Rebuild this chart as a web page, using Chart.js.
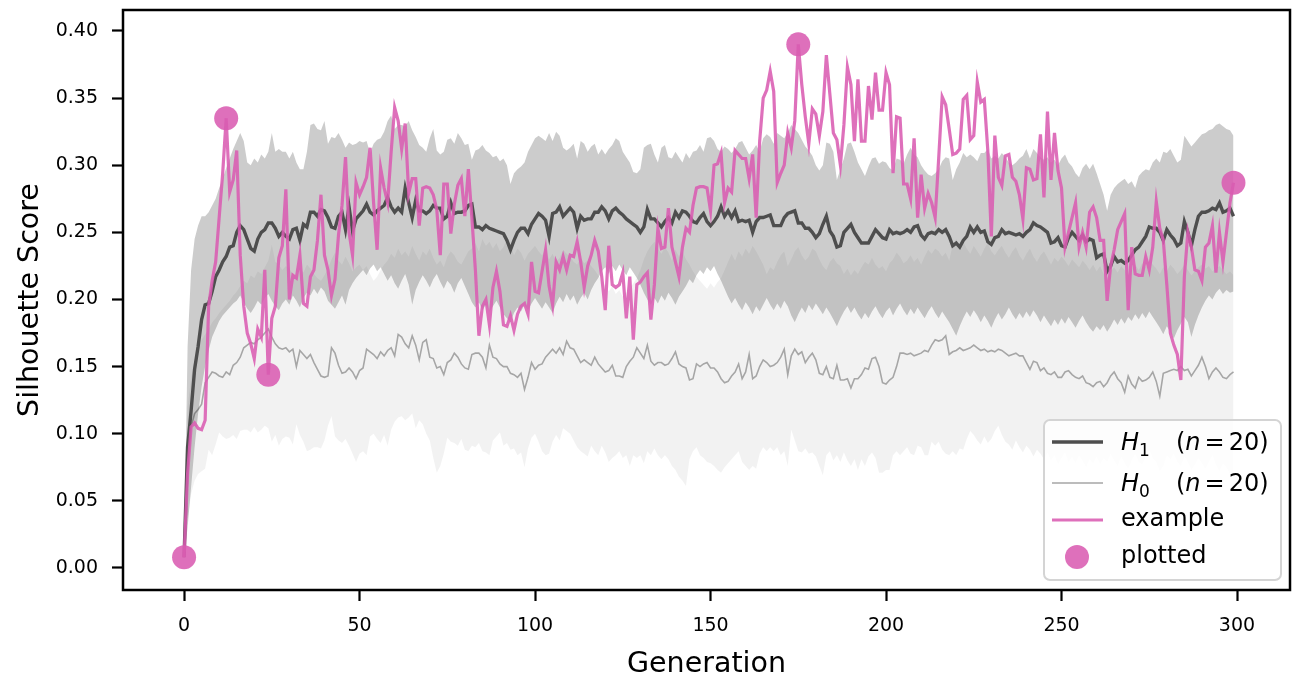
<!DOCTYPE html>
<html>
<head>
<meta charset="utf-8">
<title>Silhouette Score by Generation</title>
<script src="https://cdn.jsdelivr.net/npm/chart.js@4.4.1/dist/chart.umd.min.js"></script>
<style>
  html, body { margin: 0; padding: 0; background: #fff; }
  #wrap { width: 1294px; height: 674px; }
</style>
</head>
<body>
<div id="wrap"><canvas id="chart" width="1294" height="674"></canvas></div>
<script>
// values, one per generation (0..299)
const exampleScores = [
  0.008, 0.070, 0.105, 0.108, 0.104, 0.103, 0.110, 0.195, 0.214, 0.228,
  0.261, 0.294, 0.335, 0.280, 0.289, 0.311, 0.233, 0.195, 0.175, 0.167,
  0.156, 0.178, 0.172, 0.222, 0.144, 0.186, 0.195, 0.231, 0.240, 0.282,
  0.200, 0.218, 0.216, 0.233, 0.197, 0.195, 0.217, 0.222, 0.244, 0.278,
  0.233, 0.222, 0.203, 0.215, 0.248, 0.270, 0.306, 0.250, 0.233, 0.287,
  0.278, 0.284, 0.291, 0.313, 0.272, 0.237, 0.298, 0.283, 0.272, 0.310,
  0.343, 0.333, 0.312, 0.331, 0.279, 0.290, 0.290, 0.255, 0.283, 0.284,
  0.283, 0.278, 0.267, 0.233, 0.286, 0.286, 0.249, 0.271, 0.285, 0.290,
  0.262, 0.297, 0.261, 0.222, 0.173, 0.195, 0.200, 0.181, 0.209, 0.221,
  0.206, 0.181, 0.180, 0.188, 0.177, 0.189, 0.195, 0.197, 0.189, 0.228,
  0.206, 0.205, 0.221, 0.237, 0.210, 0.196, 0.228, 0.222, 0.232, 0.222,
  0.233, 0.232, 0.243, 0.228, 0.209, 0.225, 0.233, 0.244, 0.236, 0.217,
  0.192, 0.240, 0.211, 0.209, 0.211, 0.220, 0.186, 0.217, 0.170, 0.211,
  0.213, 0.217, 0.220, 0.185, 0.211, 0.253, 0.238, 0.239, 0.268, 0.239,
  0.228, 0.217, 0.239, 0.253, 0.250, 0.270, 0.283, 0.284, 0.284, 0.283,
  0.266, 0.300, 0.301, 0.309, 0.272, 0.283, 0.280, 0.311, 0.308, 0.305,
  0.305, 0.290, 0.308, 0.261, 0.318, 0.350, 0.356, 0.370, 0.355, 0.287,
  0.294, 0.300, 0.324, 0.313, 0.333, 0.390, 0.360, 0.336, 0.316, 0.342,
  0.338, 0.322, 0.340, 0.382, 0.353, 0.324, 0.319, 0.300, 0.330, 0.373,
  0.360, 0.318, 0.364, 0.318, 0.318, 0.359, 0.334, 0.369, 0.341, 0.341,
  0.369, 0.360, 0.294, 0.336, 0.335, 0.286, 0.286, 0.275, 0.320, 0.261,
  0.293, 0.268, 0.279, 0.272, 0.261, 0.305, 0.351, 0.345, 0.327, 0.308,
  0.309, 0.312, 0.349, 0.352, 0.319, 0.322, 0.362, 0.347, 0.349, 0.311,
  0.247, 0.322, 0.291, 0.285, 0.307, 0.308, 0.291, 0.288, 0.278, 0.260,
  0.298, 0.297, 0.289, 0.290, 0.323, 0.276, 0.340, 0.289, 0.324, 0.296,
  0.283, 0.239, 0.250, 0.261, 0.272, 0.239, 0.250, 0.239, 0.265, 0.269,
  0.261, 0.244, 0.244, 0.199, 0.225, 0.237, 0.252, 0.258, 0.264, 0.192,
  0.239, 0.219, 0.218, 0.218, 0.232, 0.222, 0.239, 0.273, 0.253, 0.244,
  0.211, 0.175, 0.166, 0.159, 0.140, 0.217, 0.250, 0.239, 0.222, 0.221,
  0.214, 0.239, 0.242, 0.255, 0.220, 0.250, 0.228, 0.250, 0.272, 0.287
];

const h1Mean = [
  0.008, 0.090, 0.117, 0.148, 0.165, 0.185, 0.196, 0.197, 0.206, 0.217,
  0.222, 0.228, 0.232, 0.239, 0.240, 0.250, 0.255, 0.252, 0.245, 0.238,
  0.236, 0.245, 0.250, 0.252, 0.257, 0.257, 0.253, 0.247, 0.250, 0.247,
  0.245, 0.252, 0.253, 0.244, 0.256, 0.254, 0.265, 0.265, 0.262, 0.267,
  0.266, 0.261, 0.254, 0.253, 0.262, 0.265, 0.252, 0.269, 0.251, 0.260,
  0.263, 0.266, 0.271, 0.265, 0.263, 0.266, 0.268, 0.270, 0.276, 0.269,
  0.265, 0.268, 0.265, 0.283, 0.272, 0.261, 0.274, 0.266, 0.266, 0.264,
  0.266, 0.270, 0.268, 0.268, 0.260, 0.262, 0.272, 0.264, 0.265, 0.265,
  0.266, 0.270, 0.271, 0.254, 0.254, 0.252, 0.255, 0.253, 0.252, 0.251,
  0.250, 0.249, 0.244, 0.237, 0.244, 0.250, 0.253, 0.253, 0.249, 0.256,
  0.260, 0.264, 0.262, 0.259, 0.247, 0.264, 0.265, 0.269, 0.262, 0.265,
  0.268, 0.265, 0.253, 0.262, 0.259, 0.260, 0.260, 0.265, 0.265, 0.269,
  0.266, 0.260, 0.266, 0.268, 0.265, 0.263, 0.260, 0.258, 0.256, 0.254,
  0.250, 0.254, 0.267, 0.260, 0.260, 0.257, 0.254, 0.258, 0.261, 0.257,
  0.265, 0.261, 0.266, 0.265, 0.262, 0.258, 0.257, 0.261, 0.264, 0.258,
  0.255, 0.258, 0.262, 0.269, 0.262, 0.266, 0.261, 0.266, 0.258, 0.259,
  0.258, 0.259, 0.250, 0.258, 0.261, 0.261, 0.262, 0.263, 0.255, 0.255,
  0.255, 0.261, 0.264, 0.265, 0.266, 0.257, 0.257, 0.253, 0.253, 0.250,
  0.246, 0.249, 0.256, 0.262, 0.251, 0.247, 0.239, 0.240, 0.250, 0.253,
  0.256, 0.250, 0.246, 0.242, 0.242, 0.242, 0.247, 0.252, 0.249, 0.246,
  0.245, 0.252, 0.249, 0.250, 0.249, 0.250, 0.252, 0.250, 0.254, 0.255,
  0.248, 0.245, 0.249, 0.250, 0.249, 0.252, 0.250, 0.252, 0.247, 0.240,
  0.242, 0.239, 0.244, 0.247, 0.254, 0.250, 0.254, 0.250, 0.251, 0.243,
  0.241, 0.246, 0.247, 0.252, 0.249, 0.250, 0.249, 0.248, 0.249, 0.247,
  0.250, 0.252, 0.257, 0.255, 0.254, 0.252, 0.250, 0.242, 0.243, 0.246,
  0.240, 0.239, 0.246, 0.250, 0.247, 0.244, 0.248, 0.243, 0.245, 0.244,
  0.231, 0.233, 0.234, 0.221, 0.225, 0.232, 0.228, 0.229, 0.227, 0.229,
  0.233, 0.237, 0.239, 0.243, 0.247, 0.254, 0.253, 0.253, 0.250, 0.244,
  0.252, 0.248, 0.245, 0.240, 0.242, 0.258, 0.250, 0.240, 0.252, 0.262,
  0.265, 0.265, 0.266, 0.268, 0.267, 0.272, 0.265, 0.266, 0.268, 0.262
];

const h1Upper = [
  0.008, 0.165, 0.222, 0.245, 0.255, 0.262, 0.262, 0.265, 0.270, 0.275,
  0.283, 0.290, 0.298, 0.305, 0.312, 0.318, 0.324, 0.318, 0.302, 0.300,
  0.305, 0.302, 0.308, 0.305, 0.310, 0.324, 0.310, 0.312, 0.310, 0.310,
  0.305, 0.310, 0.302, 0.297, 0.297, 0.310, 0.330, 0.331, 0.327, 0.326,
  0.333, 0.316, 0.321, 0.320, 0.324, 0.319, 0.313, 0.317, 0.315, 0.316,
  0.318, 0.317, 0.318, 0.309, 0.316, 0.319, 0.320, 0.325, 0.333, 0.337,
  0.327, 0.330, 0.330, 0.329, 0.333, 0.326, 0.321, 0.315, 0.313, 0.310,
  0.320, 0.327, 0.311, 0.308, 0.310, 0.319, 0.320, 0.316, 0.324, 0.320,
  0.315, 0.316, 0.304, 0.311, 0.312, 0.315, 0.311, 0.309, 0.306, 0.307,
  0.303, 0.305, 0.300, 0.286, 0.294, 0.297, 0.299, 0.302, 0.310, 0.315,
  0.320, 0.322, 0.320, 0.318, 0.324, 0.318, 0.325, 0.322, 0.313, 0.311,
  0.313, 0.316, 0.305, 0.318, 0.316, 0.310, 0.314, 0.316, 0.308, 0.312,
  0.308, 0.312, 0.315, 0.320, 0.318, 0.310, 0.306, 0.302, 0.295, 0.294,
  0.297, 0.313, 0.315, 0.316, 0.308, 0.302, 0.313, 0.315, 0.306, 0.305,
  0.310, 0.306, 0.302, 0.309, 0.305, 0.310, 0.311, 0.315, 0.310, 0.320,
  0.321, 0.318, 0.312, 0.310, 0.314, 0.312, 0.309, 0.312, 0.317, 0.318,
  0.313, 0.308, 0.311, 0.315, 0.310, 0.320, 0.323, 0.321, 0.316, 0.324,
  0.322, 0.320, 0.324, 0.330, 0.327, 0.324, 0.319, 0.314, 0.311, 0.307,
  0.300, 0.296, 0.300, 0.317, 0.316, 0.310, 0.289, 0.297, 0.305, 0.316,
  0.317, 0.310, 0.302, 0.297, 0.292, 0.299, 0.305, 0.306, 0.301, 0.303,
  0.302, 0.298, 0.296, 0.305, 0.304, 0.301, 0.308, 0.313, 0.308, 0.306,
  0.300, 0.296, 0.293, 0.292, 0.294, 0.297, 0.303, 0.306, 0.305, 0.289,
  0.297, 0.302, 0.309, 0.306, 0.308, 0.306, 0.303, 0.309, 0.309, 0.312,
  0.305, 0.307, 0.305, 0.309, 0.306, 0.302, 0.300, 0.302, 0.305, 0.307,
  0.312, 0.305, 0.312, 0.309, 0.306, 0.304, 0.306, 0.302, 0.304, 0.300,
  0.305, 0.308, 0.302, 0.299, 0.294, 0.291, 0.298, 0.301, 0.297, 0.301,
  0.294, 0.286, 0.278, 0.266, 0.278, 0.283, 0.286, 0.288, 0.290, 0.286,
  0.288, 0.283, 0.292, 0.295, 0.297, 0.296, 0.302, 0.305, 0.302, 0.310,
  0.309, 0.312, 0.307, 0.302, 0.304, 0.322, 0.318, 0.314, 0.317, 0.320,
  0.323, 0.324, 0.326, 0.327, 0.330, 0.331, 0.329, 0.327, 0.326, 0.322
];

const h1Lower = [
  0.008, 0.030, 0.060, 0.090, 0.115, 0.135, 0.150, 0.162, 0.172, 0.178,
  0.184, 0.188, 0.191, 0.194, 0.197, 0.199, 0.203, 0.198, 0.193, 0.190,
  0.194, 0.199, 0.196, 0.201, 0.204, 0.199, 0.195, 0.192, 0.197, 0.200,
  0.196, 0.203, 0.199, 0.194, 0.201, 0.205, 0.203, 0.208, 0.204, 0.209,
  0.206, 0.199, 0.196, 0.193, 0.198, 0.203, 0.196, 0.207, 0.212, 0.216,
  0.219, 0.222, 0.218, 0.223, 0.226, 0.221, 0.224, 0.219, 0.214, 0.218,
  0.212, 0.208, 0.214, 0.219, 0.211, 0.196, 0.207, 0.213, 0.218, 0.214,
  0.209, 0.215, 0.219, 0.213, 0.208, 0.214, 0.211, 0.205, 0.212, 0.216,
  0.210, 0.204, 0.198, 0.194, 0.198, 0.192, 0.196, 0.191, 0.195, 0.199,
  0.194, 0.189, 0.186, 0.183, 0.190, 0.194, 0.191, 0.196, 0.192, 0.197,
  0.201, 0.197, 0.193, 0.198, 0.194, 0.190, 0.197, 0.202, 0.198, 0.204,
  0.199, 0.203, 0.196, 0.201, 0.205, 0.200, 0.207, 0.212, 0.216, 0.221,
  0.224, 0.219, 0.225, 0.221, 0.226, 0.222, 0.218, 0.224, 0.220, 0.216,
  0.211, 0.205, 0.200, 0.196, 0.201, 0.197, 0.203, 0.199, 0.205, 0.201,
  0.196, 0.202, 0.206, 0.210, 0.215, 0.212, 0.218, 0.222, 0.219, 0.224,
  0.221, 0.225, 0.219, 0.214, 0.208, 0.202, 0.197, 0.201, 0.196, 0.192,
  0.198, 0.194, 0.189, 0.195, 0.191, 0.196, 0.201, 0.196, 0.192, 0.197,
  0.193, 0.199, 0.195, 0.188, 0.183, 0.189, 0.194, 0.190, 0.196, 0.192,
  0.197, 0.193, 0.189, 0.194, 0.190, 0.185, 0.180, 0.186, 0.191, 0.195,
  0.190, 0.194, 0.189, 0.185, 0.190, 0.186, 0.191, 0.195, 0.190, 0.186,
  0.191, 0.194, 0.188, 0.193, 0.197, 0.192, 0.188, 0.193, 0.189, 0.194,
  0.190, 0.186, 0.191, 0.195, 0.190, 0.186, 0.191, 0.187, 0.183, 0.178,
  0.173, 0.180, 0.186, 0.191, 0.187, 0.192, 0.188, 0.183, 0.188, 0.184,
  0.179, 0.185, 0.190, 0.185, 0.189, 0.194, 0.189, 0.185, 0.190, 0.186,
  0.191, 0.187, 0.192, 0.188, 0.183, 0.188, 0.184, 0.180, 0.185, 0.181,
  0.186, 0.182, 0.187, 0.183, 0.179, 0.184, 0.188, 0.183, 0.179, 0.176,
  0.180, 0.177, 0.181, 0.176, 0.180, 0.185, 0.181, 0.186, 0.182, 0.187,
  0.184, 0.189, 0.185, 0.190, 0.186, 0.191, 0.187, 0.183, 0.179, 0.174,
  0.180, 0.176, 0.171, 0.177, 0.182, 0.187, 0.183, 0.172, 0.181, 0.188,
  0.194, 0.199, 0.203, 0.200, 0.205, 0.208, 0.204, 0.207, 0.205, 0.206
];

const h0Mean = [
  0.008, 0.075, 0.105, 0.115, 0.118, 0.122, 0.138, 0.142, 0.146, 0.145,
  0.143, 0.142, 0.146, 0.144, 0.151, 0.153, 0.157, 0.164, 0.166, 0.168,
  0.167, 0.170, 0.172, 0.175, 0.178, 0.172, 0.167, 0.164, 0.163, 0.164,
  0.161, 0.163, 0.150, 0.162, 0.159, 0.156, 0.159, 0.153, 0.148, 0.143,
  0.142, 0.143, 0.164, 0.160, 0.151, 0.145, 0.146, 0.149, 0.146, 0.141,
  0.147, 0.149, 0.163, 0.161, 0.159, 0.156, 0.161, 0.158, 0.162, 0.164,
  0.158, 0.174, 0.172, 0.167, 0.164, 0.173, 0.166, 0.155, 0.168, 0.170,
  0.157, 0.156, 0.149, 0.150, 0.144, 0.153, 0.155, 0.160, 0.157, 0.152,
  0.149, 0.148, 0.159, 0.160, 0.160, 0.157, 0.149, 0.166, 0.157, 0.156,
  0.152, 0.150, 0.150, 0.145, 0.144, 0.142, 0.145, 0.133, 0.142, 0.153,
  0.148, 0.151, 0.152, 0.157, 0.160, 0.163, 0.160, 0.164, 0.159, 0.169,
  0.164, 0.163, 0.158, 0.153, 0.155, 0.153, 0.151, 0.157, 0.152, 0.149,
  0.146, 0.147, 0.151, 0.143, 0.143, 0.142, 0.150, 0.154, 0.157, 0.164,
  0.160, 0.156, 0.166, 0.154, 0.151, 0.153, 0.153, 0.151, 0.152, 0.156,
  0.161, 0.152, 0.150, 0.149, 0.140, 0.141, 0.152, 0.150, 0.152, 0.153,
  0.149, 0.149, 0.146, 0.141, 0.138, 0.139, 0.143, 0.146, 0.152, 0.141,
  0.146, 0.159, 0.141, 0.143, 0.150, 0.155, 0.153, 0.150, 0.151, 0.153,
  0.157, 0.163, 0.144, 0.158, 0.163, 0.159, 0.161, 0.153, 0.157, 0.160,
  0.155, 0.145, 0.144, 0.150, 0.142, 0.141, 0.151, 0.140, 0.140, 0.141,
  0.134, 0.141, 0.141, 0.144, 0.149, 0.148, 0.156, 0.157, 0.150, 0.138,
  0.137, 0.140, 0.142, 0.150, 0.160, 0.160, 0.159, 0.160, 0.158, 0.159,
  0.160, 0.162, 0.161, 0.166, 0.170, 0.169, 0.170, 0.173, 0.159, 0.161,
  0.162, 0.164, 0.162, 0.163, 0.164, 0.166, 0.164, 0.162, 0.163, 0.161,
  0.162, 0.161, 0.163, 0.162, 0.160, 0.158, 0.159, 0.160, 0.158, 0.158,
  0.153, 0.148, 0.154, 0.153, 0.147, 0.149, 0.145, 0.144, 0.146, 0.142,
  0.142, 0.146, 0.147, 0.144, 0.142, 0.141, 0.143, 0.138, 0.137, 0.135,
  0.138, 0.139, 0.135, 0.138, 0.143, 0.146, 0.141, 0.138, 0.131, 0.143,
  0.137, 0.134, 0.142, 0.139, 0.140, 0.142, 0.146, 0.139, 0.128, 0.145,
  0.146, 0.147, 0.148, 0.147, 0.150, 0.147, 0.148, 0.143, 0.147, 0.151,
  0.157, 0.150, 0.141, 0.146, 0.149, 0.146, 0.142, 0.141, 0.144, 0.146
];

const h0Upper = [
  0.008, 0.120, 0.142, 0.155, 0.163, 0.170, 0.174, 0.178, 0.183, 0.186,
  0.190, 0.193, 0.196, 0.199, 0.203, 0.206, 0.210, 0.214, 0.212, 0.218,
  0.216, 0.221, 0.219, 0.224, 0.229, 0.241, 0.228, 0.226, 0.222, 0.225,
  0.223, 0.219, 0.217, 0.224, 0.220, 0.226, 0.223, 0.219, 0.216, 0.214,
  0.218, 0.223, 0.230, 0.235, 0.229, 0.226, 0.232, 0.227, 0.221, 0.224,
  0.226, 0.222, 0.225, 0.219, 0.214, 0.217, 0.222, 0.226, 0.229, 0.234,
  0.231, 0.238, 0.233, 0.236, 0.232, 0.240, 0.234, 0.229, 0.236, 0.233,
  0.238, 0.231, 0.226, 0.229, 0.224, 0.232, 0.236, 0.233, 0.228, 0.226,
  0.231, 0.236, 0.238, 0.242, 0.236, 0.245, 0.240, 0.243, 0.238, 0.242,
  0.236, 0.239, 0.245, 0.241, 0.233, 0.238, 0.235, 0.229, 0.234, 0.237,
  0.240, 0.236, 0.233, 0.238, 0.230, 0.234, 0.228, 0.231, 0.237, 0.234,
  0.232, 0.228, 0.226, 0.231, 0.227, 0.229, 0.225, 0.222, 0.218, 0.214,
  0.210, 0.206, 0.210, 0.204, 0.207, 0.202, 0.205, 0.208, 0.212, 0.216,
  0.222, 0.230, 0.236, 0.240, 0.243, 0.238, 0.234, 0.239, 0.235, 0.229,
  0.237, 0.232, 0.236, 0.230, 0.226, 0.221, 0.217, 0.214, 0.211, 0.208,
  0.212, 0.209, 0.213, 0.216, 0.222, 0.228, 0.234, 0.229, 0.236, 0.232,
  0.238, 0.234, 0.240, 0.236, 0.231, 0.226, 0.219, 0.224, 0.222, 0.228,
  0.233, 0.236, 0.225, 0.230, 0.236, 0.239, 0.233, 0.229, 0.232, 0.238,
  0.236, 0.230, 0.225, 0.222, 0.228, 0.231, 0.227, 0.225, 0.219, 0.223,
  0.218, 0.222, 0.219, 0.224, 0.228, 0.226, 0.231, 0.226, 0.223, 0.225,
  0.221, 0.227, 0.230, 0.235, 0.232, 0.227, 0.229, 0.233, 0.228, 0.231,
  0.226, 0.232, 0.237, 0.234, 0.238, 0.236, 0.232, 0.235, 0.229, 0.241,
  0.245, 0.239, 0.243, 0.238, 0.234, 0.240, 0.236, 0.232, 0.238, 0.242,
  0.236, 0.233, 0.237, 0.240, 0.235, 0.231, 0.236, 0.239, 0.233, 0.229,
  0.234, 0.238, 0.232, 0.228, 0.233, 0.236, 0.231, 0.226, 0.231, 0.228,
  0.232, 0.229, 0.225, 0.230, 0.227, 0.224, 0.229, 0.226, 0.222, 0.226,
  0.221, 0.225, 0.219, 0.216, 0.221, 0.224, 0.220, 0.225, 0.222, 0.218,
  0.223, 0.226, 0.222, 0.227, 0.224, 0.229, 0.226, 0.223, 0.219, 0.224,
  0.221, 0.226, 0.223, 0.219, 0.222, 0.226, 0.222, 0.218, 0.221, 0.224,
  0.226, 0.223, 0.225, 0.221, 0.223, 0.225, 0.222, 0.219, 0.221, 0.218
];

const h0Lower = [
  0.008, 0.035, 0.055, 0.065, 0.070, 0.072, 0.074, 0.088, 0.084, 0.092,
  0.101, 0.098, 0.096, 0.097, 0.099, 0.096, 0.102, 0.103, 0.103, 0.101,
  0.105, 0.101, 0.103, 0.106, 0.104, 0.094, 0.099, 0.091, 0.096, 0.098,
  0.097, 0.092, 0.107, 0.099, 0.094, 0.087, 0.088, 0.090, 0.090, 0.089,
  0.095, 0.106, 0.113, 0.098, 0.095, 0.093, 0.096, 0.091, 0.085, 0.079,
  0.085, 0.087, 0.084, 0.098, 0.100, 0.096, 0.093, 0.099, 0.091, 0.103,
  0.109, 0.112, 0.113, 0.110, 0.112, 0.115, 0.104, 0.110, 0.107, 0.100,
  0.095, 0.082, 0.071, 0.076, 0.085, 0.097, 0.094, 0.093, 0.091, 0.096,
  0.088, 0.087, 0.091, 0.090, 0.093, 0.087, 0.086, 0.084, 0.095, 0.098,
  0.101, 0.091, 0.093, 0.088, 0.089, 0.084, 0.086, 0.075, 0.089, 0.097,
  0.100, 0.094, 0.087, 0.084, 0.085, 0.094, 0.099, 0.095, 0.104, 0.102,
  0.100, 0.095, 0.090, 0.087, 0.085, 0.083, 0.091, 0.087, 0.084, 0.091,
  0.086, 0.079, 0.082, 0.084, 0.087, 0.082, 0.084, 0.076, 0.084, 0.082,
  0.084, 0.078, 0.087, 0.084, 0.089, 0.084, 0.081, 0.084, 0.081, 0.076,
  0.073, 0.068, 0.065, 0.061, 0.081, 0.087, 0.090, 0.084, 0.082, 0.079,
  0.078, 0.076, 0.073, 0.071, 0.075, 0.078, 0.081, 0.084, 0.087, 0.079,
  0.076, 0.073, 0.076, 0.074, 0.085, 0.090, 0.087, 0.090, 0.087, 0.090,
  0.084, 0.087, 0.076, 0.103, 0.095, 0.087, 0.086, 0.089, 0.085, 0.086,
  0.083, 0.076, 0.069, 0.084, 0.087, 0.080, 0.084, 0.079, 0.086, 0.080,
  0.076, 0.081, 0.073, 0.081, 0.076, 0.083, 0.086, 0.082, 0.071, 0.071,
  0.073, 0.073, 0.084, 0.087, 0.084, 0.087, 0.090, 0.085, 0.084, 0.091,
  0.090, 0.084, 0.084, 0.094, 0.091, 0.094, 0.088, 0.085, 0.084, 0.087,
  0.084, 0.089, 0.088, 0.096, 0.102, 0.099, 0.095, 0.092, 0.098, 0.093,
  0.096, 0.102, 0.106, 0.099, 0.094, 0.092, 0.088, 0.095, 0.090, 0.086,
  0.091, 0.088, 0.083, 0.088, 0.085, 0.081, 0.086, 0.080, 0.084, 0.077,
  0.082, 0.086, 0.079, 0.083, 0.078, 0.084, 0.080, 0.075, 0.081, 0.078,
  0.083, 0.077, 0.082, 0.079, 0.085, 0.080, 0.076, 0.083, 0.078, 0.074,
  0.080, 0.085, 0.079, 0.077, 0.083, 0.088, 0.082, 0.079, 0.072, 0.076,
  0.084, 0.081, 0.085, 0.079, 0.076, 0.083, 0.079, 0.073, 0.077, 0.082,
  0.078, 0.074, 0.079, 0.084, 0.077, 0.072, 0.078, 0.075, 0.070, 0.068
];

// generations where the example individual was plotted
const plottedGenerations = [0, 12, 24, 175, 299];

const xTickValues = [0, 50, 100, 150, 200, 250, 300];
const yTickValues = [0, 0.05, 0.10, 0.15, 0.20, 0.25, 0.30, 0.35, 0.40];

const PINK = 'rgba(218, 92, 178, 0.88)';
const H1_COLOR = '#4e4e4e';
const H0_COLOR = '#a6a6a6';
const FONT = 'DejaVu Sans';

function toPoints(values) {
  return values.map((y, i) => ({ x: i, y: y }));
}

const plottedPoints = plottedGenerations.map((g) => ({ x: g, y: exampleScores[g] }));

// no extra room for edge tick labels, the plot box is placed by hand
function noPadding() {
  return { left: 0, top: 0, right: 0, bottom: 0 };
}

// black box round the plot area, drawn over the data like matplotlib spines
const framePlugin = {
  id: 'frame',
  afterDatasetsDraw(chart) {
    const { ctx, chartArea } = chart;
    ctx.save();
    ctx.strokeStyle = '#000';
    ctx.lineWidth = 2.5;
    ctx.strokeRect(chartArea.left, chartArea.top,
      chartArea.right - chartArea.left, chartArea.bottom - chartArea.top);
    ctx.restore();
  }
};

function drawParts(ctx, parts, x, baseline) {
  for (const p of parts) {
    if (p.at !== undefined) x = p.at;
    ctx.font = (p.italic ? 'italic ' : '') + (p.size || 24) + 'px "' + FONT + '"';
    ctx.fillText(p.text, x, baseline + (p.dy || 0));
    x += ctx.measureText(p.text).width + (p.gap || 0);
  }
}

function nParts(sub) {
  return [
    { text: 'H', italic: true },
    { text: sub, size: 17, dy: 6 },
    { text: '(', at: 1176 },
    { text: 'n', italic: true, gap: 4 },
    { text: '=', gap: 4 },
    { text: '20)' }
  ];
}

// legend drawn by hand so it can sit inside the axes, bottom right
const legendPlugin = {
  id: 'boxLegend',
  afterDraw(chart) {
    const ctx = chart.ctx;
    const bx = 1044, by = 420, bw = 237, bh = 160;
    ctx.save();
    ctx.beginPath();
    ctx.roundRect(bx, by, bw, bh, 6);
    ctx.fillStyle = 'rgba(255, 255, 255, 0.8)';
    ctx.fill();
    ctx.lineWidth = 2;
    ctx.strokeStyle = '#d4d4d4';
    ctx.stroke();

    const lx1 = 1052, lx2 = 1103, tx = 1121;
    const rows = [442, 483, 520, 557];

    ctx.lineCap = 'butt';
    ctx.strokeStyle = H1_COLOR;
    ctx.lineWidth = 3.4;
    ctx.beginPath(); ctx.moveTo(lx1, rows[0]); ctx.lineTo(lx2, rows[0]); ctx.stroke();

    ctx.strokeStyle = H0_COLOR;
    ctx.lineWidth = 1.6;
    ctx.beginPath(); ctx.moveTo(lx1, rows[1]); ctx.lineTo(lx2, rows[1]); ctx.stroke();

    ctx.strokeStyle = PINK;
    ctx.lineWidth = 3.2;
    ctx.beginPath(); ctx.moveTo(lx1, rows[2]); ctx.lineTo(lx2, rows[2]); ctx.stroke();

    ctx.fillStyle = PINK;
    ctx.beginPath(); ctx.arc(1077, rows[3], 12, 0, Math.PI * 2); ctx.fill();

    ctx.fillStyle = '#000';
    ctx.textBaseline = 'alphabetic';
    ctx.textAlign = 'left';
    drawParts(ctx, nParts('1'), tx, rows[0] + 8);
    drawParts(ctx, nParts('0'), tx, rows[1] + 8);
    drawParts(ctx, [{ text: 'example' }], tx, rows[2] + 6);
    drawParts(ctx, [{ text: 'plotted' }], tx, rows[3] + 6);
    ctx.restore();
  }
};

const tickFont = { family: FONT, size: 19 };
const titleFont = { family: FONT, size: 28.5, lineHeight: 1 };

new Chart(document.getElementById('chart'), {
  type: 'line',
  data: {
    datasets: [
      {
        label: 'plotted',
        data: plottedPoints,
        showLine: false,
        pointRadius: 12,
        pointBorderWidth: 0,
        pointBackgroundColor: PINK
      },
      {
        label: 'example',
        data: toPoints(exampleScores),
        borderColor: PINK,
        borderWidth: 3.2,
        pointRadius: 0
      },
      {
        label: 'H1',
        data: toPoints(h1Mean),
        borderColor: H1_COLOR,
        borderWidth: 3.4,
        pointRadius: 0
      },
      {
        label: 'H1 upper',
        data: toPoints(h1Upper),
        borderColor: 'rgba(0,0,0,0)',
        borderWidth: 0,
        pointRadius: 0,
        backgroundColor: 'rgba(0, 0, 0, 0.2)',
        fill: '+1'
      },
      {
        label: 'H1 lower',
        data: toPoints(h1Lower),
        borderColor: 'rgba(0,0,0,0)',
        borderWidth: 0,
        pointRadius: 0,
        fill: false
      },
      {
        label: 'H0',
        data: toPoints(h0Mean),
        borderColor: H0_COLOR,
        borderWidth: 1.6,
        pointRadius: 0
      },
      {
        label: 'H0 upper',
        data: toPoints(h0Upper),
        borderColor: 'rgba(0,0,0,0)',
        borderWidth: 0,
        pointRadius: 0,
        backgroundColor: 'rgba(0, 0, 0, 0.05)',
        fill: '+1'
      },
      {
        label: 'H0 lower',
        data: toPoints(h0Lower),
        borderColor: 'rgba(0,0,0,0)',
        borderWidth: 0,
        pointRadius: 0,
        fill: false
      }
    ]
  },
  options: {
    responsive: false,
    animation: false,
    events: [],
    devicePixelRatio: 1,
    layout: { autoPadding: false, padding: { top: 10, right: 4, left: 0, bottom: 0 } },
    elements: { line: { tension: 0 } },
    plugins: {
      legend: { display: false },
      tooltip: { enabled: false }
    },
    scales: {
      x: {
        type: 'linear',
        min: -17.4,
        max: 315.1,
        afterBuildTicks: (axis) => { axis.ticks = xTickValues.map((v) => ({ value: v })); },
        afterFit: (axis) => {
          axis.height = 84;
          axis.paddingLeft = 0;
          axis.paddingRight = 0;
          axis.getPadding = noPadding;
        },
        ticks: {
          color: '#000',
          font: tickFont,
          padding: 14,
          autoSkip: false,
          maxRotation: 0,
          callback: (v) => String(v)
        },
        grid: { drawOnChartArea: false, drawTicks: true, tickLength: 11, tickWidth: 2.2, tickColor: '#000' },
        border: { display: false },
        title: {
          display: true,
          text: 'Generation',
          color: '#000',
          font: titleFont,
          padding: { top: 0, bottom: -5 }
        }
      },
      y: {
        type: 'linear',
        min: -0.0164,
        max: 0.4156,
        afterBuildTicks: (axis) => { axis.ticks = yTickValues.map((v) => ({ value: v })); },
        afterFit: (axis) => {
          axis.width = 123;
          axis.paddingTop = 0;
          axis.paddingBottom = 0;
          axis.getPadding = noPadding;
        },
        ticks: {
          color: '#000',
          font: tickFont,
          padding: 14,
          autoSkip: false,
          callback: (v) => v.toFixed(2)
        },
        grid: { drawOnChartArea: false, drawTicks: true, tickLength: 11, tickWidth: 2.2, tickColor: '#000' },
        border: { display: false },
        title: {
          display: true,
          text: 'Silhouette Score',
          color: '#000',
          font: titleFont,
          padding: { top: 16, bottom: 0 }
        }
      }
    }
  },
  plugins: [framePlugin, legendPlugin]
});
</script>
</body>
</html>
